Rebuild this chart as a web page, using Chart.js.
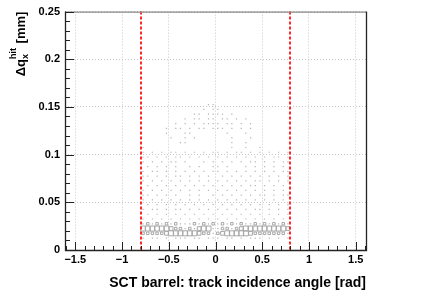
<!DOCTYPE html>
<html>
<head>
<meta charset="utf-8">
<script src="https://cdn.jsdelivr.net/npm/chart.js@4"></script>
<style>
  html, body { margin: 0; padding: 0; background: #fff; }
  #wrap { width: 431px; height: 296px; }
</style>
</head>
<body>
<div id="wrap"><canvas id="angleChart" width="431" height="296"></canvas></div>
<script>
"use strict";

const xRange = [-1.61, 1.61];
const yRange = [0, 0.25];
const xTickValues = [-1.5, -1, -0.5, 0, 0.5, 1, 1.5];
const xTickLabels = ["\u22121.5", "\u22121", "\u22120.5", "0", "0.5", "1", "1.5"];
const yTickValues = [0, 0.05, 0.1, 0.15, 0.2, 0.25];
const yTickLabels = ["0", "0.05", "0.1", "0.15", "0.2", "0.25"];
const cutLines = [-0.8, 0.8];
const xTitle = "SCT barrel: track incidence angle [rad]";

// bin centres of the 2D histogram
const angleBins = [
  -0.775, -0.725, -0.675, -0.625, -0.575, -0.525, -0.475, -0.425,
  -0.375, -0.325, -0.275, -0.225, -0.175, -0.125, -0.075, -0.025,
   0.025,  0.075,  0.125,  0.175,  0.225,  0.275,  0.325,  0.375,
   0.425,  0.475,  0.525,  0.575,  0.625,  0.675,  0.725,  0.775
];
const dqBins = [
  0.1525, 0.1475, 0.1425, 0.1375, 0.1325, 0.1275, 0.1225, 0.1175,
  0.1125, 0.1075, 0.1025, 0.0975, 0.0925, 0.0875, 0.0825, 0.0775,
  0.0725, 0.0675, 0.0625, 0.0575, 0.0525, 0.0475, 0.0425, 0.0375,
  0.0325, 0.0275, 0.0225, 0.0175, 0.0125
];
// one string per dq bin (top to bottom), one digit per angle bin ('.' = empty)
const binCounts = [
  "..............11................",
  ".............1.11...............",
  "...........11.1111.1............",
  ".........1.11.11.11.1.1.........",
  ".......1.1.1.1111.11.1.1........",
  ".....1.11.1.11.111.1.1.1........",
  ".....1...11.......1...1.........",
  "......1..1.1.......1...1........",
  "........11.........1..1.........",
  "1..................1..1..1.......",
  "1.1.1.11.1.1.1.11.1.11.1.1.1.1.1",
  "11.1.1.11.1.1.1.1.1.1.1.1.1.11.1",
  "1.1.1.11.1...1.1.1.1.1.11.1.1.11",
  ".1.1.1.1..1.1..11.1...1.1.1.1.1.",
  "1.11.1.1.1.1.1.11.1.1.1.1.1.1.11",
  "11.1.1.11.1.1.1..1.1.1.1.1.1.1.1",
  "1.1.1.1.1.1.1.1.1.1.1.1.11.1.1.1",
  ".1.1.1.1.1.1.1.1.1.1.1.11.1.1.1.",
  "1.1.1.1.1.1.1.1.1.1.1.1.1.1.1.1.",
  "11.1.1.1..1.1..1.1.1.1.1.11.1.11",
  "1.1.1.1.1.1.1.1.1.1.1.1.1.1.1.1.",
  ".1.1.1.1.1.1.1.1.1.1.1.1.1.1.1.1",
  "1.11.1.11.1.1.1.1.1.1.1.11.1.1.1",
  ".1.1.1.1.1.1.1.1.1.1.1.1.1.1.1.1",
  "1.1.1.1.1.1.1.1.1.1.1.1.1.1.1.1.",
  "12121212111212121212121121212121",
  "44444432212134411221234444444443",
  "22222344444432212344444322222221",
  "1.11.1.111.11.111.11.1.111.1.1.1"
];

const points = [];
binCounts.forEach((row, r) => {
  for (let c = 0; c < row.length; c++) {
    const n = row[c] === "." ? 0 : Number(row[c]);
    if (n > 0) points.push({ x: angleBins[c], y: dqBins[r], n: n });
  }
});

function boxSide(n) {
  return n <= 1 ? 1.2 : n * 1.25;
}

const fontFamily = "'Liberation Sans', Arial, Helvetica, sans-serif";

const rootFrame = {
  id: "rootFrame",
  afterDatasetsDraw(chart) {
    const { ctx, chartArea: a, scales: { x, y } } = chart;
    ctx.save();

    // cut lines
    ctx.strokeStyle = "#ff2a2a";
    ctx.lineWidth = 2;
    ctx.setLineDash([3, 2]);
    cutLines.forEach(v => {
      const px = Math.round(x.getPixelForValue(v));
      ctx.beginPath();
      ctx.moveTo(px, a.top);
      ctx.lineTo(px, a.bottom);
      ctx.stroke();
    });
    ctx.setLineDash([]);

    // frame
    ctx.lineWidth = 1.3;
    ctx.strokeStyle = "#888";
    ctx.beginPath();
    ctx.moveTo(a.left, a.top + 0.5);
    ctx.lineTo(a.right, a.top + 0.5);
    ctx.stroke();
    ctx.strokeStyle = "#222";
    ctx.beginPath();
    ctx.moveTo(a.left + 0.5, a.top);
    ctx.lineTo(a.left + 0.5, a.bottom + 0.5);
    ctx.lineTo(a.right + 0.5, a.bottom + 0.5);
    ctx.lineTo(a.right + 0.5, a.top);
    ctx.stroke();

    // ticks inside the frame
    ctx.lineWidth = 1;
    ctx.strokeStyle = "#222";
    ctx.beginPath();
    for (let i = 0; i <= 25; i++) {
      const v = i * 0.01;
      const py = Math.round(y.getPixelForValue(v)) + 0.5;
      const len = i % 5 === 0 ? 9 : 5;
      ctx.moveTo(a.left, py);
      ctx.lineTo(a.left + len, py);
    }
    for (let i = -16; i <= 16; i++) {
      const v = i * 0.1;
      const px = Math.round(x.getPixelForValue(v)) + 0.5;
      const len = i % 5 === 0 ? 8 : 4;
      ctx.moveTo(px, a.bottom);
      ctx.lineTo(px, a.bottom - len);
    }
    ctx.stroke();

    // x title
    ctx.fillStyle = "#000";
    ctx.font = "bold 14px " + fontFamily;
    ctx.textAlign = "right";
    ctx.textBaseline = "alphabetic";
    ctx.fillText(xTitle, a.right, 287);

    // y title: Δq_x^hit [mm], rotated, right aligned at the top
    ctx.translate(25, a.top);
    ctx.rotate(-Math.PI / 2);
    const big = "bold 13px " + fontFamily;
    const small = "bold 9px " + fontFamily;
    ctx.textAlign = "left";
    ctx.font = big;
    const w1 = ctx.measureText("\u0394q").width;
    const w3 = ctx.measureText(" [mm]").width;
    ctx.font = small;
    const w2 = Math.max(ctx.measureText("x").width, ctx.measureText("hit").width) + 1;
    let pos = -(w1 + w2 + w3);
    ctx.font = big;
    ctx.fillText("\u0394q", pos, 0);
    pos += w1;
    ctx.font = small;
    ctx.fillText("x", pos, 3);
    ctx.fillText("hit", pos, -9);
    pos += w2;
    ctx.font = big;
    ctx.fillText(" [mm]", pos, 0);

    ctx.restore();
  }
};

new Chart(document.getElementById("angleChart"), {
  type: "scatter",
  data: {
    datasets: [{
      data: points,
      pointStyle: "rect",
      pointRadius: ctx => boxSide(ctx.raw.n) / Math.SQRT2,
      pointHoverRadius: ctx => boxSide(ctx.raw.n) / Math.SQRT2,
      backgroundColor: ctx => ctx.raw.n <= 1 ? "#b4b4b4" : "rgba(255,255,255,0)",
      borderColor: "#a8a8a8",
      borderWidth: ctx => ctx.raw.n <= 1 ? 0 : 1
    }]
  },
  options: {
    responsive: false,
    animation: false,
    events: [],
    layout: { padding: { top: 5, right: 65, left: 0, bottom: 0 } },
    plugins: {
      legend: { display: false },
      tooltip: { enabled: false }
    },
    scales: {
      x: {
        type: "linear",
        min: xRange[0],
        max: xRange[1],
        afterBuildTicks: s => { s.ticks = xTickValues.map(v => ({ value: v })); },
        afterFit: s => { s.height = 46; },
        ticks: {
          autoSkip: false,
          maxRotation: 0,
          padding: 3,
          color: "#000",
          font: { family: fontFamily, size: 11, weight: "bold" },
          callback: (v, i) => xTickLabels[i]
        },
        grid: { color: "#c8c8c8", drawTicks: false },
        border: { display: false, dash: [1, 2] }
      },
      y: {
        type: "linear",
        min: yRange[0],
        max: yRange[1],
        afterBuildTicks: s => { s.ticks = yTickValues.map(v => ({ value: v })); },
        afterFit: s => { s.width = 65; },
        ticks: {
          padding: 5,
          color: "#000",
          font: { family: fontFamily, size: 11, weight: "bold" },
          callback: (v, i) => yTickLabels[i]
        },
        grid: { color: "#c8c8c8", drawTicks: false },
        border: { display: false, dash: [1, 2] }
      }
    }
  },
  plugins: [rootFrame]
});
</script>
</body>
</html>
